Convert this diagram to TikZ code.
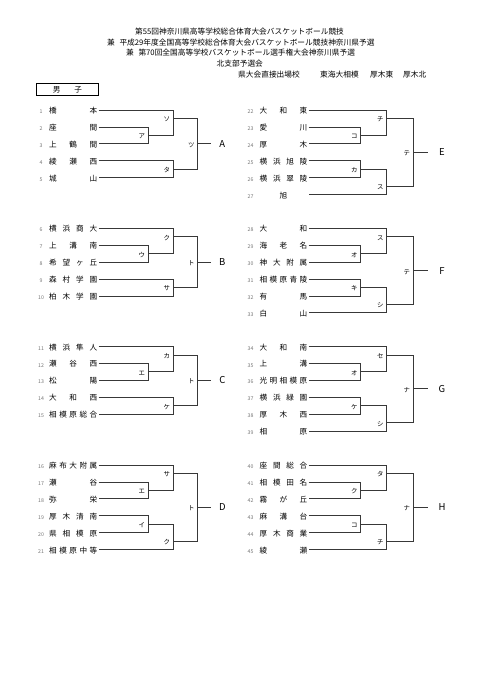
\documentclass[tikz,border=0pt]{standalone}
\usepackage{fontspec}
\setmainfont{Noto Sans CJK JP}

\tikzset{
  bk/.style={line width=0.75pt, draw=black!78},
  nm/.style={inner sep=0pt, text height=0.8em, text depth=0.1em, font=\fontsize{7.6}{9}\selectfont},
  numf/.style={inner sep=0pt, text height=0.72em, text depth=0pt, text=black!55, font=\fontsize{5.2}{6}\selectfont},
  lab/.style={inner sep=0pt, text height=0.8em, text depth=0.1em, anchor=east, xshift=-3pt, font=\fontsize{6.4}{7}\selectfont},
  letter/.style={inner sep=0pt, text height=0.72em, text depth=0pt, font=\fontsize{9.5}{11}\selectfont},
  ttl/.style={inner sep=0pt, anchor=west, text height=0.8em, text depth=0.1em, font=\fontsize{7.7}{9}\selectfont},
}

\newcommand{\rowh}{16.9}

% one block of schools: prefix, top row y, list number/{characters}
\newcommand{\teams}[3]{%
  \foreach \tnum/\tname [count=\i from 0] in {#3} {
    \pgfmathsetmacro\ty{#2+\i*\rowh}
    \node[numf] (#1num\i) at (\numx,\ty) {\tnum};
    \foreach \ch [count=\k] in \tname {\xdef\nch{\k}}
    \foreach \ch [count=\k] in \tname {
      \pgfmathsetmacro\cx{\firstx+(\k-1)*(\lastx-\firstx)/max(\nch-1,1)+(\nch==1)*(\lastx-\firstx)/2}
      \node[nm] (#1c\i-\k) at (\cx,\ty) {\ch};
    }
    \coordinate (#1t\i) at (\lstart,\ty);
  }}

% five schools: pair 1-2, bye 0, pair 3-4
\newcommand{\fiveblock}[7]{%
  \coordinate (#1p) at (\vone,{#2+1.5*\rowh});
  \coordinate (#1q) at (\vtwo,{#2+0.5*\rowh});
  \coordinate (#1r) at (\vtwo,{#2+3.5*\rowh});
  \coordinate (#1f) at (\vthree,{#2+2*\rowh});
  \coordinate (#1e) at (\vend,{#2+2*\rowh});
  \draw[bk] (#1t1) -| (#1p) |- (#1t2);
  \draw[bk] (#1t0) -| (#1q) |- (#1p);
  \draw[bk] (#1t3) -| (#1r) |- (#1t4);
  \draw[bk] (#1q) -| (#1f) |- (#1r);
  \draw[bk] (#1f) -- (#1e);
  \node[lab] (#1lp) at (#1p) {#3};
  \node[lab] (#1lq) at (#1q) {#4};
  \node[lab] (#1lr) at (#1r) {#5};
  \node[lab] (#1lf) at (#1f) {#6};
  \node[letter] (#1let) at (\letx,{#2+2*\rowh}) {#7};
}

% six schools: pair 1-2, bye 0, pair 3-4, bye 5
\newcommand{\sixblock}[8]{%
  \coordinate (#1p) at (\vone,{#2+1.5*\rowh});
  \coordinate (#1q) at (\vtwo,{#2+0.5*\rowh});
  \coordinate (#1r) at (\vone,{#2+3.5*\rowh});
  \coordinate (#1s) at (\vtwo,{#2+4.5*\rowh});
  \coordinate (#1f) at (\vthree,{#2+2.5*\rowh});
  \coordinate (#1e) at (\vend,{#2+2.5*\rowh});
  \draw[bk] (#1t1) -| (#1p) |- (#1t2);
  \draw[bk] (#1t0) -| (#1q) |- (#1p);
  \draw[bk] (#1t3) -| (#1r) |- (#1t4);
  \draw[bk] (#1r) -| (#1s) |- (#1t5);
  \draw[bk] (#1q) -| (#1f) |- (#1s);
  \draw[bk] (#1f) -- (#1e);
  \node[lab] (#1lp) at (#1p) {#3};
  \node[lab] (#1lq) at (#1q) {#4};
  \node[lab] (#1lr) at (#1r) {#5};
  \node[lab] (#1ls) at (#1s) {#6};
  \node[lab] (#1lf) at (#1f) {#7};
  \node[letter] (#1let) at (\letx,{#2+2.5*\rowh}) {#8};
}

\begin{document}
\begin{tikzpicture}[x=1pt,y=-1pt]
  \useasboundingbox (0,0) rectangle (481,680);

  % heading
  \node[ttl] (title1) at (135,31) {第55回神奈川県高等学校総合体育大会バスケットボール競技};
  \node[ttl] (title2) at (107,41.5) {兼\hspace{0.6em}平成29年度全国高等学校総合体育大会バスケットボール競技神奈川県予選};
  \node[ttl] (title3) at (126,52) {兼\hspace{0.6em}第70回全国高等学校バスケットボール選手権大会神奈川県予選};
  \node[ttl] (title4) at (216.5,62.5) {北支部予選会};
  \node[ttl] (seed0) at (238,73.5) {県大会直接出場校};
  \node[ttl] (seed1) at (320,73.5) {東海大相模};
  \node[ttl] (seed2) at (370,73.5) {厚木東};
  \node[ttl] (seed3) at (403,73.5) {厚木北};

  \node[draw, line width=1.1pt, minimum width=61.6pt, minimum height=12.4pt, inner sep=0pt,
        font=\fontsize{7.6}{9}\selectfont] (boys) at (67.5,89.5) {男\hspace{14pt}子};

  % left half
  \def\numx{41}\def\firstx{53}\def\lastx{93.5}\def\lstart{98.5}
  \def\vone{148.3}\def\vtwo{173.3}\def\vthree{197.7}\def\vend{210.7}\def\letx{222.3}

  \teams{A}{110}{1/{橋,本}, 2/{座,間}, 3/{上,鶴,間}, 4/{綾,瀬,西}, 5/{城,山}}
  \fiveblock{A}{110}{ア}{ソ}{タ}{ツ}{A}

  \teams{B}{228.3}{6/{横,浜,商,大}, 7/{上,溝,南}, 8/{希,望,ヶ,丘}, 9/{森,村,学,園}, 10/{柏,木,学,園}}
  \fiveblock{B}{228.3}{ウ}{ク}{サ}{ト}{B}

  \teams{C}{346.5}{11/{横,浜,隼,人}, 12/{瀬,谷,西}, 13/{松,陽}, 14/{大,和,西}, 15/{相,模,原,総,合}}
  \fiveblock{C}{346.5}{エ}{カ}{ケ}{ト}{C}

  \teams{D}{465}{16/{麻,布,大,附,属}, 17/{瀬,谷}, 18/{弥,栄}, 19/{厚,木,清,南}, 20/{県,相,模,原}, 21/{相,模,原,中,等}}
  \sixblock{D}{465}{エ}{サ}{イ}{ク}{ト}{D}

  % right half
  \def\numx{250.5}\def\firstx{263.5}\def\lastx{303.5}\def\lstart{308.5}
  \def\vone{360.7}\def\vtwo{386.7}\def\vthree{413.3}\def\vend{428.3}\def\letx{442}

  \teams{E}{110}{22/{大,和,東}, 23/{愛,川}, 24/{厚,木}, 25/{横,浜,旭,陵}, 26/{横,浜,翠,陵}, 27/{旭}}
  \sixblock{E}{110}{コ}{チ}{カ}{ス}{テ}{E}

  \teams{F}{228.3}{28/{大,和}, 29/{海,老,名}, 30/{神,大,附,属}, 31/{相,模,原,青,陵}, 32/{有,馬}, 33/{白,山}}
  \sixblock{F}{228.3}{オ}{ス}{キ}{シ}{テ}{F}

  \teams{G}{346.5}{34/{大,和,南}, 35/{上,溝}, 36/{光,明,相,模,原}, 37/{横,浜,緑,園}, 38/{厚,木,西}, 39/{相,原}}
  \sixblock{G}{346.5}{オ}{セ}{ケ}{シ}{ナ}{G}

  \teams{H}{465}{40/{座,間,総,合}, 41/{相,模,田,名}, 42/{霧,が,丘}, 43/{麻,溝,台}, 44/{厚,木,商,業}, 45/{綾,瀬}}
  \sixblock{H}{465}{ク}{タ}{コ}{チ}{ナ}{H}
\end{tikzpicture}
\end{document}
